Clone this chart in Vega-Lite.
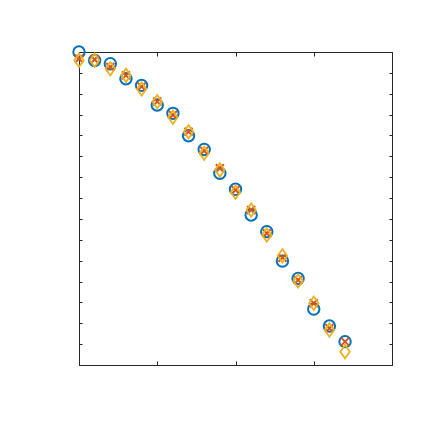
{
  "$schema": "https://vega.github.io/schema/vega-lite/v6.json",
  "autosize": "none",
  "width": 313,
  "height": 313,
  "padding": {"left": 79, "top": 52, "right": 41, "bottom": 68},
  "background": "white",
  "config": {"view": {"stroke": null}},
  "data": {"values": [
    {"x": 0.0, "s": "a", "y": 15.0}, {"x": 0.2, "s": "a", "y": 14.59}, {"x": 0.4, "s": "a", "y": 14.44}, {"x": 0.6, "s": "a", "y": 13.72},
    {"x": 0.8, "s": "a", "y": 13.4}, {"x": 1.0, "s": "a", "y": 12.46}, {"x": 1.2, "s": "a", "y": 12.06}, {"x": 1.4, "s": "a", "y": 10.99},
    {"x": 1.6, "s": "a", "y": 10.33}, {"x": 1.8, "s": "a", "y": 9.19}, {"x": 2.0, "s": "a", "y": 8.42}, {"x": 2.2, "s": "a", "y": 7.19},
    {"x": 2.4, "s": "a", "y": 6.39}, {"x": 2.6, "s": "a", "y": 4.98}, {"x": 2.8, "s": "a", "y": 4.15}, {"x": 3.0, "s": "a", "y": 2.68},
    {"x": 3.2, "s": "a", "y": 1.87}, {"x": 3.4, "s": "a", "y": 1.12},
    {"x": 0.0, "s": "b", "y": 14.68}, {"x": 0.2, "s": "b", "y": 14.64}, {"x": 0.4, "s": "b", "y": 14.28}, {"x": 0.6, "s": "b", "y": 13.88},
    {"x": 0.8, "s": "b", "y": 13.34}, {"x": 1.0, "s": "b", "y": 12.62}, {"x": 1.2, "s": "b", "y": 11.98}, {"x": 1.4, "s": "b", "y": 11.18},
    {"x": 1.6, "s": "b", "y": 10.26}, {"x": 1.8, "s": "b", "y": 9.43}, {"x": 2.0, "s": "b", "y": 8.39}, {"x": 2.2, "s": "b", "y": 7.43},
    {"x": 2.4, "s": "b", "y": 6.31}, {"x": 2.6, "s": "b", "y": 5.14}, {"x": 2.8, "s": "b", "y": 4.07}, {"x": 3.0, "s": "b", "y": 2.96},
    {"x": 3.2, "s": "b", "y": 1.76}, {"x": 3.4, "s": "b", "y": 1.12},
    {"x": 0.0, "s": "c", "y": 14.6}, {"x": 0.2, "s": "c", "y": 14.6}, {"x": 0.4, "s": "c", "y": 14.2}, {"x": 0.6, "s": "c", "y": 13.88},
    {"x": 0.8, "s": "c", "y": 13.23}, {"x": 1.0, "s": "c", "y": 12.62}, {"x": 1.2, "s": "c", "y": 11.87}, {"x": 1.4, "s": "c", "y": 11.18},
    {"x": 1.6, "s": "c", "y": 10.15}, {"x": 1.8, "s": "c", "y": 9.34}, {"x": 2.0, "s": "c", "y": 8.28}, {"x": 2.2, "s": "c", "y": 7.43},
    {"x": 2.4, "s": "c", "y": 6.23}, {"x": 2.6, "s": "c", "y": 5.24}, {"x": 2.8, "s": "c", "y": 4.03}, {"x": 3.0, "s": "c", "y": 2.96},
    {"x": 3.2, "s": "c", "y": 1.68}, {"x": 3.4, "s": "c", "y": 0.64}
  ]},
  "resolve": {"axis": {"x": "independent", "y": "independent"}},
  "layer": [
    {
      "transform": [{"filter": "datum.s === 'a'"}],
      "mark": {"type": "point", "shape": "circle", "filled": false, "size": 130, "strokeWidth": 2, "color": "#0072BD", "opacity": 1},
      "encoding": {
        "x": {"field": "x", "type": "quantitative", "scale": {"domain": [0, 4], "nice": false, "zero": false},
              "axis": {"orient": "bottom", "values": [0, 1, 2, 3, 4], "labels": false, "title": null, "grid": false, "tickSize": -4, "domainColor": "#262626", "tickColor": "#262626", "domainWidth": 1, "tickWidth": 1}},
        "y": {"field": "y", "type": "quantitative", "scale": {"domain": [0, 15], "nice": false, "zero": false},
              "axis": {"orient": "left", "values": [0,1,2,3,4,5,6,7,8,9,10,11,12,13,14,15], "labels": false, "title": null, "grid": false, "tickSize": -3, "domainColor": "#262626", "tickColor": "#262626", "domainWidth": 1, "tickWidth": 1}}
      }
    },
    {
      "transform": [{"filter": "datum.s === 'b'"}],
      "mark": {"type": "point", "shape": "M-1,-1L1,1M-1,1L1,-1", "filled": false, "size": 64, "strokeWidth": 2, "color": "#D95319", "opacity": 1},
      "encoding": {
        "x": {"field": "x", "type": "quantitative", "scale": {"domain": [0, 4], "nice": false, "zero": false},
              "axis": {"orient": "top", "values": [0, 1, 2, 3, 4], "labels": false, "title": null, "grid": false, "tickSize": -4, "domainColor": "#262626", "tickColor": "#262626", "domainWidth": 1, "tickWidth": 1}},
        "y": {"field": "y", "type": "quantitative", "scale": {"domain": [0, 15], "nice": false, "zero": false},
              "axis": {"orient": "right", "values": [0,1,2,3,4,5,6,7,8,9,10,11,12,13,14,15], "labels": false, "title": null, "grid": false, "tickSize": -3, "domainColor": "#262626", "tickColor": "#262626", "domainWidth": 1, "tickWidth": 1}}
      }
    },
    {
      "transform": [{"filter": "datum.s === 'c'"}],
      "mark": {"type": "point", "shape": "M-0.7,0L0,-1L0.7,0L0,1Z", "filled": false, "size": 180, "strokeWidth": 1.8, "color": "#EDB120", "opacity": 1},
      "encoding": {
        "x": {"field": "x", "type": "quantitative", "scale": {"domain": [0, 4], "nice": false, "zero": false}, "axis": null},
        "y": {"field": "y", "type": "quantitative", "scale": {"domain": [0, 15], "nice": false, "zero": false}, "axis": null}
      }
    }
  ]
}
